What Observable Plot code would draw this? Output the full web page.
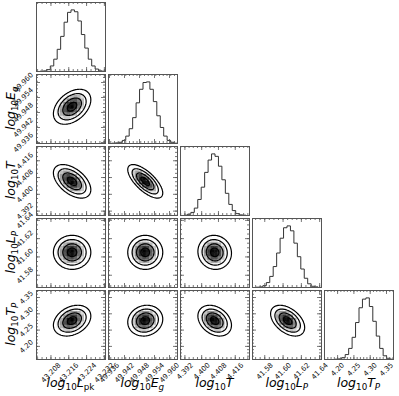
<!DOCTYPE html>
<html><head><meta charset="utf-8">
<script src="https://cdn.jsdelivr.net/npm/d3@7"></script>
<script src="https://cdn.jsdelivr.net/npm/@observablehq/plot@0.6"></script>
<style>
body{margin:0;background:#fff;}
#chart{position:relative;width:399px;height:396px;overflow:hidden;font-family:"DejaVu Sans",sans-serif;}
.panel{position:absolute;}
.lab{position:absolute;font-family:"DejaVu Sans",sans-serif;font-size:12.5px;white-space:nowrap;line-height:1;}
.lab i{font-style:italic;}
.lab .s{font-size:0.7em;position:relative;top:0.35em;}
</style></head><body><div id="chart"></div>
<script>
// parameter names (label main letter + subscript)
const labelMain = ["L", "E", "T", "L", "T"];
const labelSub = ["pk", "g", "", "P", "P"];
const subItalic = [false, true, true, true, true];
// axis ranges
const lows  = [43.2015, 49.9356, 4.3899, 41.5666, 4.1598];
const highs = [43.2325, 49.9632, 4.4228, 41.6420, 4.3715];
// posterior summary
const means = [43.2175, 49.9503, 4.4062, 41.6050, 4.2790];
const sds   = [0.0042, 0.0035, 0.0040, 0.0093, 0.0236];
const rho1 = [0.40];                    // E_g vs L_pk
const rho2 = [-0.50, -0.70];            // T vs L_pk, E_g
const rho3 = [0.00, 0.00, -0.05];       // L_P vs ...
const rho4 = [0.30, 0.10, -0.30, -0.45];// T_P vs ...
const rhos = [[], rho1, rho2, rho3, rho4];
// major ticks and labels
const ticks0 = [43.208, 43.216, 43.224, 43.232];
const ticks1 = [49.936, 49.942, 49.948, 49.954, 49.960];
const ticks2 = [4.392, 4.400, 4.408, 4.416];
const ticks3 = [41.58, 41.60, 41.62, 41.64];
const ticks4 = [4.20, 4.25, 4.30, 4.35];
const tickLabels0 = ["43.208", "43.216", "43.224", "43.232"];
const tickLabels1 = ["49.936", "49.942", "49.948", "49.954", "49.960"];
const tickLabels2 = ["4.392", "4.400", "4.408", "4.416"];
const tickLabels3 = ["41.58", "41.60", "41.62", "41.64"];
const tickLabels4 = ["4.20", "4.25", "4.30", "4.35"];
const minorSteps = [0.002, 0.0015, 0.002, 0.005, 0.01];
// 1-D histogram counts (20 bins across each range)
const hist0 = [0, 0.5, 1, 3, 9, 20, 36, 57, 80, 96, 100, 97, 82, 60, 38, 20, 9, 4, 1, 0.5];
const hist1 = [0, 0.5, 1, 2, 5, 12, 24, 42, 66, 88, 99, 100, 88, 68, 45, 26, 12, 5, 2, 0.5];
const hist2 = [0, 0.5, 2, 5, 12, 26, 46, 70, 90, 100, 96, 80, 58, 36, 18, 8, 3, 1, 0.5, 0];
const hist3 = [0, 0.5, 1, 3, 8, 18, 34, 56, 80, 97, 100, 92, 72, 50, 30, 15, 6, 2, 1, 0];
const hist4 = [0, 0, 0, 0.5, 1, 3, 8, 18, 36, 60, 84, 98, 100, 86, 62, 38, 18, 6, 2, 0.5];
// contour levels at 0.5,1,1.5,2 sigma (relative density)
const sigmaLevels = [0.5, 1, 1.5, 2];

const ticks = [ticks0, ticks1, ticks2, ticks3, ticks4];
const tickLabels = [tickLabels0, tickLabels1, tickLabels2, tickLabels3, tickLabels4];
const hists = [hist0, hist1, hist2, hist3, hist4];
const thresholds = sigmaLevels.map(s => Math.exp(-0.5 * s * s)).sort((a, b) => a - b);

const N = 5, W = 69, H = 69, X0 = 36, Y0 = 2, STEP = 72;
const FS = 7;
const chart = document.getElementById("chart");
const frameColor = "#555";

function labelWidth(s) { // approx DejaVu Sans advance
  let w = 0; for (const c of s) w += (c === ".") ? 0.318 : 0.636; return w * FS;
}
function minors(k) {
  const st = minorSteps[k];
  const a = Math.ceil(lows[k] / st - 1e-9), b = Math.floor(highs[k] / st + 1e-9);
  return d3.range(a, b + 1).map(n => +(n * st).toFixed(6));
}
function gauss(jx, iy) {
  const r = rhos[iy][jx];
  return (x, y) => {
    const zx = (x - means[jx]) / sds[jx], zy = (y - means[iy]) / sds[iy];
    return Math.exp(-0.5 / (1 - r * r) * (zx * zx - 2 * r * zx * zy + zy * zy));
  };
}

function panel(i, j) {
  const marks = [];
  let ydom;
  const xdom = [lows[j], highs[j]];
  if (i === j) {
    const c = hists[j], n = c.length, bw = (highs[j] - lows[j]) / n;
    const pts = c.map((v, k) => ({x: lows[j] + k * bw, y: v}));
    pts.push({x: highs[j], y: c[n - 1]});
    ydom = [0, d3.max(c) * 1.12];
    marks.push(Plot.line(pts, {x: "x", y: "y", curve: "step-after", stroke: "#333", strokeWidth: 1}));
  } else {
    ydom = [lows[i], highs[i]];
    const f = gauss(j, i);
    const dx = (highs[j] - lows[j]), dy = (highs[i] - lows[i]);
    // coarse density image (20 x 20 cells)
    const nc = 20, cells = [];
    for (let a = 0; a < nc; a++) for (let b = 0; b < nc; b++) {
      const x1 = lows[j] + a * dx / nc, x2 = lows[j] + (a + 1) * dx / nc;
      const y1 = lows[i] + b * dy / nc, y2 = lows[i] + (b + 1) * dy / nc;
      cells.push({x1, x2, y1, y2, v: f((x1 + x2) / 2, (y1 + y2) / 2)});
    }
    marks.push(Plot.rect(cells, {x1: "x1", x2: "x2", y1: "y1", y2: "y2", fill: "v", inset: -0.3}));
    // contour lines
    const ng = 80, vals = new Float64Array(ng * ng);
    for (let b = 0; b < ng; b++) for (let a = 0; a < ng; a++)
      vals[b * ng + a] = f(lows[j] + (a + 0.5) * dx / ng, lows[i] + (b + 0.5) * dy / ng);
    const cs = d3.contours().size([ng, ng]).thresholds(thresholds)(vals);
    const ringPts = [];
    let rid = 0;
    for (const c of cs) for (const poly of c.coordinates) for (const ring of poly) {
      for (const [gx, gy] of ring)
        ringPts.push({x: lows[j] + (gx / ng) * dx, y: lows[i] + (gy / ng) * dy, z: rid, lvl: c.value});
      rid++;
    }
    marks.push(Plot.line(ringPts, {x: "x", y: "y", z: "z", stroke: "black", strokeWidth: 1.2, curve: "linear"}));
  }
  // inward ticks
  const mj = ticks[j], mn = minors(j);
  marks.push(Plot.tickX(mn, {x: d => d, insetBottom: H - 2, stroke: frameColor, strokeWidth: 0.8}));
  marks.push(Plot.tickX(mn, {x: d => d, insetTop: H - 2, stroke: frameColor, strokeWidth: 0.8}));
  marks.push(Plot.tickX(mj, {x: d => d, insetBottom: H - 4, stroke: frameColor, strokeWidth: 0.8}));
  marks.push(Plot.tickX(mj, {x: d => d, insetTop: H - 4, stroke: frameColor, strokeWidth: 0.8}));
  if (i !== j) {
    const mjy = ticks[i], mny = minors(i);
    marks.push(Plot.tickY(mny, {y: d => d, insetRight: W - 2, stroke: frameColor, strokeWidth: 0.8}));
    marks.push(Plot.tickY(mny, {y: d => d, insetLeft: W - 2, stroke: frameColor, strokeWidth: 0.8}));
    marks.push(Plot.tickY(mjy, {y: d => d, insetRight: W - 4, stroke: frameColor, strokeWidth: 0.8}));
    marks.push(Plot.tickY(mjy, {y: d => d, insetLeft: W - 4, stroke: frameColor, strokeWidth: 0.8}));
  }
  // tick labels
  if (i === N - 1) {
    const lw = labelWidth(tickLabels[j][0]);
    const half = (lw + FS * 1.0) * Math.SQRT1_2 / 2;
    marks.push(Plot.text(mj, {x: d => d, frameAnchor: "bottom", text: (d, k) => tickLabels[j][k],
      rotate: -45, dy: 2 + half, fontSize: FS, fill: "#111", textAnchor: "middle", lineAnchor: "middle"}));
  }
  if (j === 0 && i > 0) {
    const lw = labelWidth(tickLabels[i][0]);
    const half = (lw + FS * 1.0) * Math.SQRT1_2 / 2;
    marks.push(Plot.text(ticks[i], {y: d => d, frameAnchor: "left", text: (d, k) => tickLabels[i][k],
      rotate: -45, dx: -(2 + half), fontSize: FS, fill: "#111", textAnchor: "middle", lineAnchor: "middle"}));
  }
  marks.push(Plot.frame({stroke: frameColor, strokeWidth: 1}));
  const svg = Plot.plot({
    width: W, height: H, margin: 0,
    x: {domain: xdom, axis: null},
    y: {domain: ydom, axis: null},
    color: {type: "linear", domain: [0.3, 1], range: ["white", "#000"], clamp: true},
    style: {overflow: "visible", fontFamily: "DejaVu Sans", background: "transparent"},
    marks
  });
  svg.classList.add("panel");
  svg.style.left = (X0 + STEP * j) + "px";
  svg.style.top = (Y0 + STEP * i) + "px";
  chart.appendChild(svg);
}

for (let i = 0; i < N; i++) for (let j = 0; j <= i; j++) panel(i, j);

function labelHTML(k) {
  const subTxt = subItalic[k] ? `<i>${labelSub[k]}</i>` : labelSub[k];
  const sub = labelSub[k] ? `<span class="s">${subTxt}</span>` : "";
  return `<i>log</i><span class="s">10</span><i>${labelMain[k]}</i>${sub}`;
}
for (let k = 0; k < N; k++) {
  const d = document.createElement("div");
  d.className = "lab";
  d.innerHTML = labelHTML(k);
  chart.appendChild(d);
  const w = d.offsetWidth, h = d.offsetHeight;
  d.style.left = (X0 + STEP * k + W / 2 - w / 2) + "px";
  d.style.top = (377) + "px";
  if (k > 0) {
    const e = document.createElement("div");
    e.className = "lab";
    e.innerHTML = labelHTML(k);
    chart.appendChild(e);
    const cy = Y0 + STEP * k + H / 2;
    e.style.left = (11 - w / 2) + "px";
    e.style.top = (cy - h / 2) + "px";
    e.style.transform = "rotate(-90deg)";
    e.style.transformOrigin = "50% 50%";
  }
}
</script></body></html>
